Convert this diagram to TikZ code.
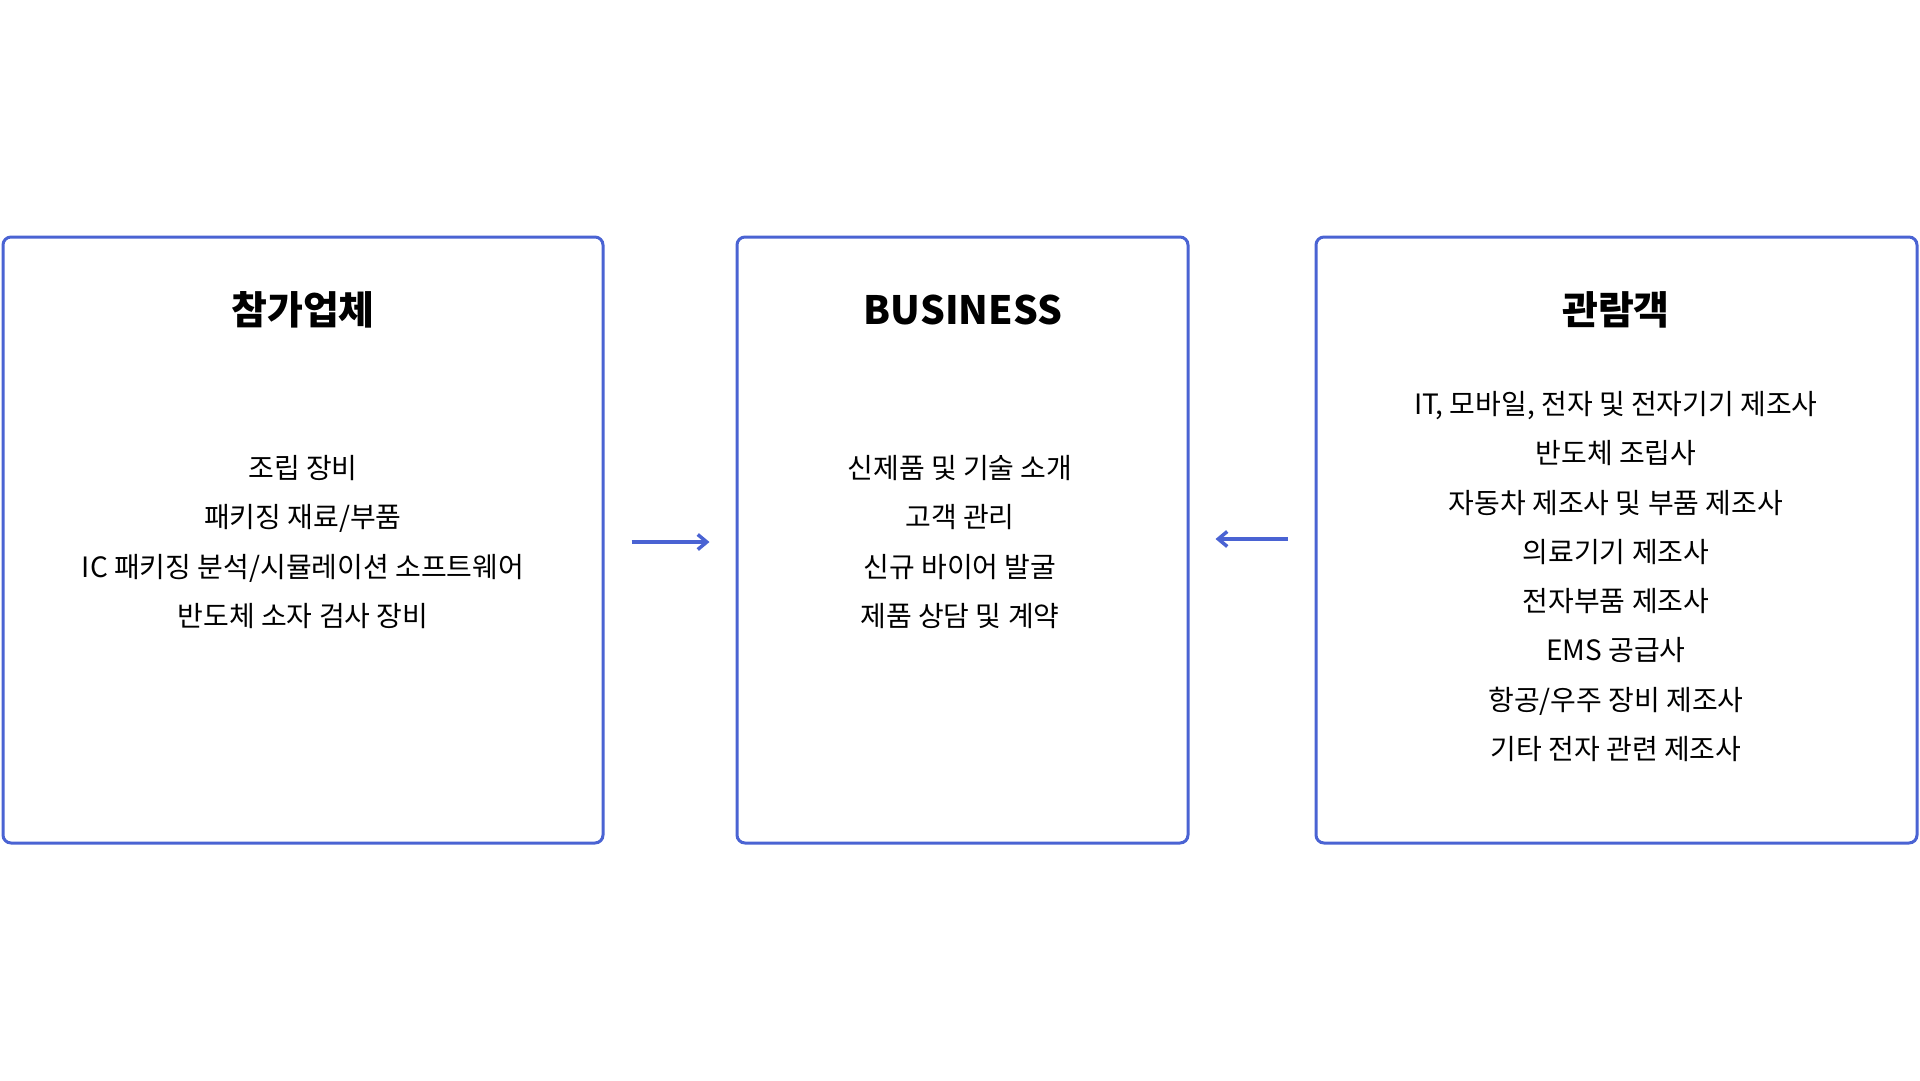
\documentclass[tikz,border=0pt]{standalone}
\usepackage{fontspec}
\setmainfont{Noto Sans CJK KR}
\usetikzlibrary{arrows.meta}
\definecolor{boxblue}{RGB}{74,99,211}
\begin{document}
\begin{tikzpicture}[x=1pt,y=-1pt,
    flow/.style={draw=boxblue,line width=3.5pt,-{Straight Barb[length=9pt,width=15pt]},shorten <=27pt,shorten >=26pt}]

      \useasboundingbox (0,0) rectangle (1920,1080);

      \begin{scope}[every node/.style={draw=boxblue,line width=3pt,rounded corners=8pt,minimum height=606pt}]
        \node[minimum width=600pt] (left)  at (303,540)    {};
        \node[minimum width=451pt] (mid)   at (962.5,540)  {};
        \node[minimum width=601pt] (right) at (1616.5,540) {};
      \end{scope}

      \begin{scope}[every node/.style={font=\bfseries\fontsize{39}{47}\selectfont}]
        \node (lefttitle)  at (303,310)  {참가업체};
        \node (midtitle)   at (963,310)  {BUSINESS};
        \node (righttitle) at (1616,310) {관람객};
      \end{scope}

      \begin{scope}[every node/.style={align=center,font=\fontsize{28}{49.3}\selectfont}]
        \node (leftlist) at (303,542) {조립 장비\\패키징 재료/부품\\IC 패키징 분석/시뮬레이션 소프트웨어\\반도체 소자 검사 장비};
        \node (midlist) at (960,542) {신제품 및 기술 소개\\고객 관리\\신규 바이어 발굴\\제품 상담 및 계약};
        \node (rightlist) at (1616,576.5) {IT, 모바일, 전자 및 전자기기 제조사\\반도체 조립사\\자동차 제조사 및 부품 제조사\\의료기기 제조사\\전자부품 제조사\\EMS 공급사\\항공/우주 장비 제조사\\기타 전자 관련 제조사};
      \end{scope}

      \draw[flow] ([yshift=-2pt]left.east) -- ([yshift=-2pt]mid.west);
      \draw[flow] ([yshift=1pt]right.west) -- ([yshift=1pt]mid.east);

    \end{tikzpicture}
\end{document}
